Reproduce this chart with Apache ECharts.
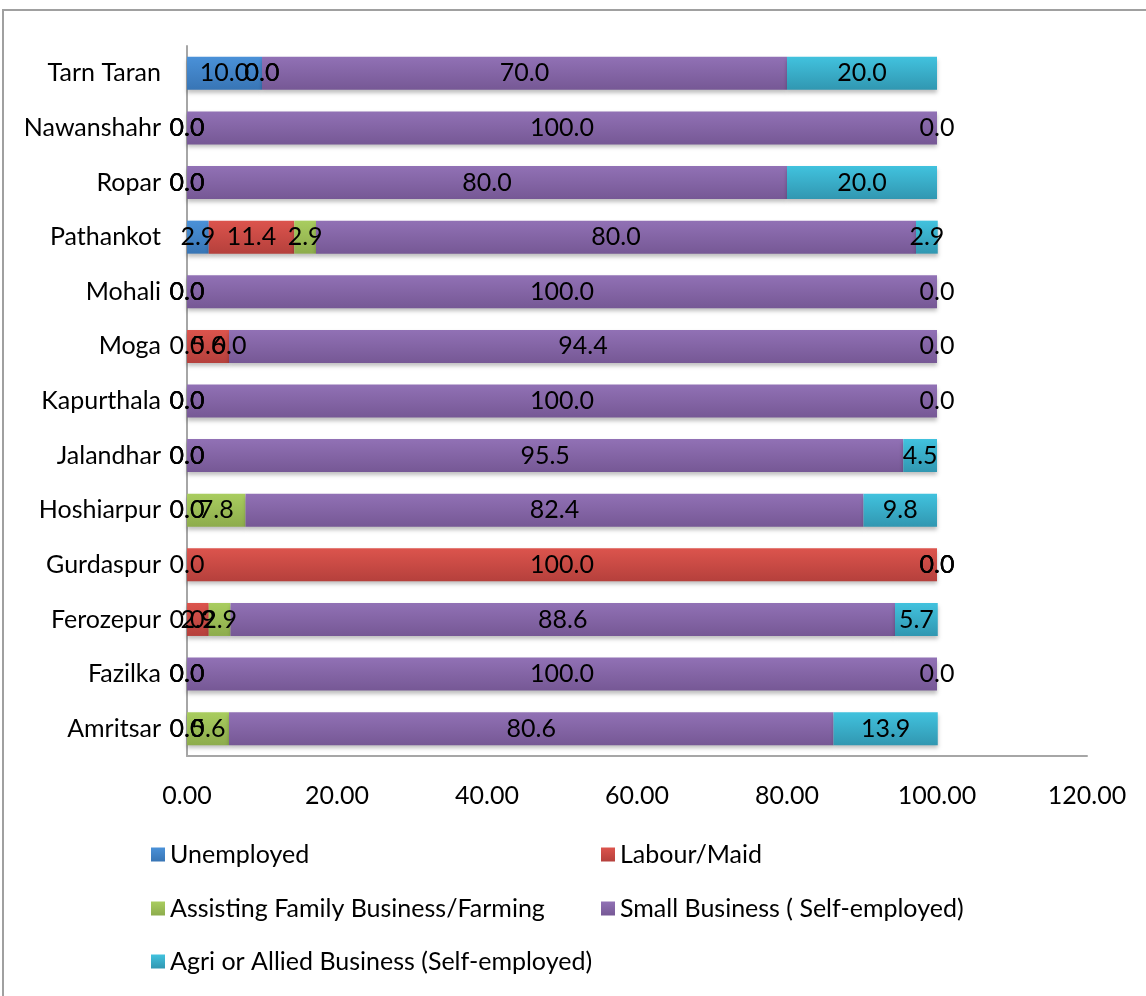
<!DOCTYPE html>
<html>
<head>
<meta charset="utf-8">
<script src="https://cdn.jsdelivr.net/npm/echarts@6/dist/echarts.min.js"></script>
<style>
  html, body { margin: 0; padding: 0; background: #fff; }
  #chart { width: 1146px; height: 996px; }
</style>
</head>
<body>
<div id="chart"></div>
<script>
var districts = ['Amritsar', 'Fazilka', 'Ferozepur', 'Gurdaspur', 'Hoshiarpur', 'Jalandhar',
  'Kapurthala', 'Moga', 'Mohali', 'Pathankot', 'Ropar', 'Nawanshahr', 'Tarn Taran'];

var unemployed = [0.0, 0.0, 0.0, 0.0, 0.0, 0.0, 0.0, 0.0, 0.0, 2.9, 0.0, 0.0, 10.0];
var labourMaid = [0.0, 0.0, 2.9, 100.0, 0.0, 0.0, 0.0, 5.6, 0.0, 11.4, 0.0, 0.0, 0.0];
var assisting  = [5.6, 0.0, 2.9, 0.0, 7.8, 0.0, 0.0, 0.0, 0.0, 2.9, 0.0, 0.0, 0.0];
var smallBiz   = [80.6, 100.0, 88.6, 0.0, 82.4, 95.5, 100.0, 94.4, 100.0, 80.0, 80.0, 100.0, 70.0];
var agriBiz    = [13.9, 0.0, 5.7, 0.0, 9.8, 4.5, 0.0, 0.0, 0.0, 2.9, 20.0, 0.0, 20.0];

var seriesNames = ['Unemployed', 'Labour/Maid', 'Assisting Family Business/Farming',
  'Small Business ( Self-employed)', 'Agri or Allied Business (Self-employed)'];
var seriesData = [unemployed, labourMaid, assisting, smallBiz, agriBiz];

var FONT = 'Lato';
var FS = 25;
var colorTop = ['#4A91D8', '#DC544D', '#A9CD5F', '#9171B5', '#41C2DE'];
var colorBot = ['#3875B5', '#B5403C', '#8DAC4C', '#765895', '#3197B1'];

function grad(i) {
  return new echarts.graphic.LinearGradient(0, 0, 0, 1, [
    { offset: 0, color: colorTop[i] },
    { offset: 1, color: colorBot[i] }
  ]);
}

var series = seriesNames.map(function (name, i) {
  return {
    name: name,
    type: 'bar',
    stack: 'total',
    barWidth: 33,
    data: seriesData[i],
    itemStyle: {
      color: grad(i),
      shadowColor: 'rgba(0,0,0,0.25)',
      shadowBlur: 4,
      shadowOffsetY: 3
    },
    label: {
      show: true,
      position: 'inside',
      color: '#000',
      fontFamily: FONT,
      fontSize: FS,
      formatter: function (p) { return p.value.toFixed(1); }
    }
  };
});

var legendPos = [[146, 837], [596, 837], [146, 891], [596, 891], [146, 944]];
var legends = seriesNames.map(function (name, i) {
  return {
    data: [name],
    left: legendPos[i][0],
    top: legendPos[i][1],
    icon: 'rect',
    itemWidth: 14,
    itemHeight: 14,
    itemGap: 0,
    textStyle: { fontFamily: FONT, fontSize: FS, color: '#000' }
  };
});

var chart = echarts.init(document.getElementById('chart'));
var option = {
  animation: false,
  backgroundColor: '#fff',
  color: colorTop,
  grid: { left: 187, right: 59, top: 46, height: 710, containLabel: false },
  legend: legends,
  xAxis: {
    type: 'value',
    min: 0,
    max: 120,
    interval: 20,
    axisLine: { show: true, lineStyle: { color: '#A6A6A6', width: 2 } },
    axisTick: { show: false },
    splitLine: { show: false },
    axisLabel: {
      margin: 27,
      color: '#000',
      fontFamily: FONT,
      fontSize: FS,
      formatter: function (v) { return v.toFixed(2); }
    }
  },
  yAxis: {
    type: 'category',
    data: districts,
    axisLine: { show: true, lineStyle: { color: '#A6A6A6', width: 2 } },
    axisTick: { show: false },
    axisLabel: { margin: 26, color: '#000', fontFamily: FONT, fontSize: FS }
  },
  graphic: [{
    type: 'rect',
    shape: { x: 3, y: 10, width: 1300, height: 1100 },
    style: { fill: 'none', stroke: '#A0A0A0', lineWidth: 2 },
    silent: true
  }],
  series: series
};
chart.setOption(option);
</script>
</body>
</html>
